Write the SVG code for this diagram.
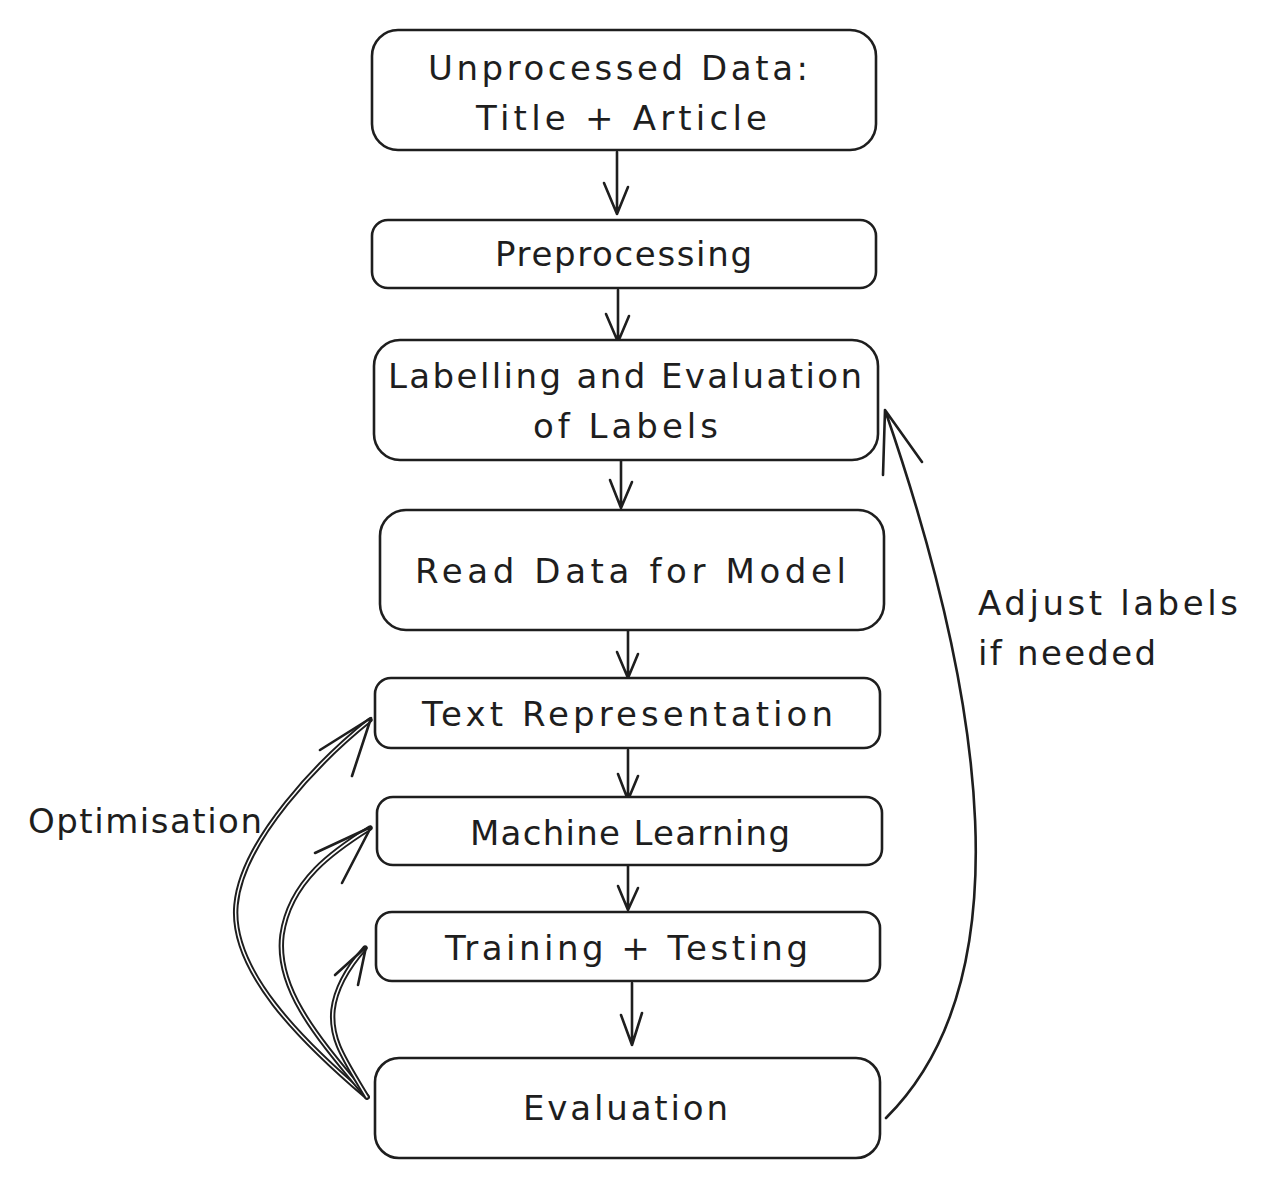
<svg xmlns="http://www.w3.org/2000/svg" width="1262" height="1188" viewBox="0 0 1262 1188">
<style>
  .box{fill:#ffffff;stroke:#1e1e1e;stroke-width:2.6}
  .t{font-family:"DejaVu Sans","Liberation Sans",sans-serif;font-size:34px;fill:#1e1e1e}
  .c{stroke:#1e1e1e;stroke-width:2.6;fill:none;stroke-linecap:round;stroke-linejoin:round}
  .dbl{stroke:#1e1e1e;stroke-width:5.4;fill:none;stroke-linecap:round}
  .dbli{stroke:#ffffff;stroke-width:1.5;fill:none;stroke-linecap:round}
</style>
<rect width="1262" height="1188" fill="#ffffff"/>
<g id="connectors">
  <path class="c" d="M617,152 L617,214 M604,183 L617,214 L628,187"/>
  <path class="c" d="M618,290 L618,342 M606,314 L618,342 L629,316"/>
  <path class="c" d="M621,460 L621,508 M610,480 L621,508 L632,482"/>
  <path class="c" d="M628,630 L628,678 M617,652 L628,678 L638,654"/>
  <path class="c" d="M628,750 L628,800 M618,774 L628,800 L638,776"/>
  <path class="c" d="M628,862 L628,910 M618,886 L628,910 L638,888"/>
  <path class="c" d="M632,983 L632,1045 M621,1015 L632,1045 L642,1013"/>
  <path class="c" d="M886,1118 C1025,980 985,700 885,410 M883,475 L885,410 L922,462"/>
  <path class="dbl" d="M367,1097 C300,1040 230,970 236,905 C242,840 320,760 370,720"/>
  <path class="dbli" d="M367,1097 C300,1040 230,970 236,905 C242,840 320,760 370,720"/>
  <path class="c" d="M320,750 L371,718 L352,776"/>
  <path class="dbl" d="M367,1097 C320,1040 275,990 282,935 C290,880 335,850 370,828"/>
  <path class="dbli" d="M367,1097 C320,1040 275,990 282,935 C290,880 335,850 370,828"/>
  <path class="c" d="M315,853 L371,827 L342,883"/>
  <path class="dbl" d="M367,1097 C345,1060 330,1040 333,1010 C336,985 350,965 365,948"/>
  <path class="dbli" d="M367,1097 C345,1060 330,1040 333,1010 C336,985 350,965 365,948"/>
  <path class="c" d="M335,975 L366,947 L358,985"/>
</g>
<g id="n1">
  <rect class="box" x="372" y="30" width="504" height="120" rx="26"/>
  <text class="t" x="428" y="80" textLength="380" lengthAdjust="spacing">Unprocessed Data:</text>
  <text class="t" x="476" y="130" textLength="291" lengthAdjust="spacing">Title + Article</text>
</g>
<g id="n2">
  <rect class="box" x="372" y="220" width="504" height="68" rx="16"/>
  <text class="t" x="495" y="266" textLength="257" lengthAdjust="spacing">Preprocessing</text>
</g>
<g id="n3">
  <rect class="box" x="374" y="340" width="504" height="120" rx="26"/>
  <text class="t" x="388" y="388" textLength="474" lengthAdjust="spacing">Labelling and Evaluation</text>
  <text class="t" x="533" y="438" textLength="185" lengthAdjust="spacing">of Labels</text>
</g>
<g id="n4">
  <rect class="box" x="380" y="510" width="504" height="120" rx="26"/>
  <text class="t" x="415" y="583" textLength="431" lengthAdjust="spacing">Read Data for Model</text>
</g>
<g id="n5">
  <rect class="box" x="375" y="678" width="505" height="70" rx="16"/>
  <text class="t" x="422" y="726" textLength="411" lengthAdjust="spacing">Text Representation</text>
</g>
<g id="n6">
  <rect class="box" x="377" y="797" width="505" height="68" rx="16"/>
  <text class="t" x="470" y="845" textLength="320" lengthAdjust="spacing">Machine Learning</text>
</g>
<g id="n7">
  <rect class="box" x="376" y="912" width="504" height="69" rx="16"/>
  <text class="t" x="445" y="960" textLength="363" lengthAdjust="spacing">Training + Testing</text>
</g>
<g id="n8">
  <rect class="box" x="375" y="1058" width="505" height="100" rx="24"/>
  <text class="t" x="523" y="1120" textLength="205" lengthAdjust="spacing">Evaluation</text>
</g>
<g id="labels">
  <text class="t" x="978" y="615" textLength="260" lengthAdjust="spacing">Adjust labels</text>
  <text class="t" x="978" y="665" textLength="178" lengthAdjust="spacing">if needed</text>
  <text class="t" x="28" y="833" textLength="234" lengthAdjust="spacing">Optimisation</text>
</g>
</svg>
